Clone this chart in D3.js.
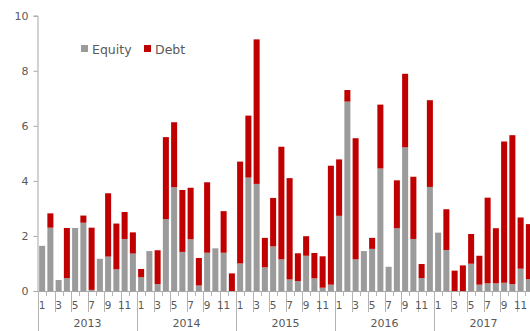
<!DOCTYPE html>
<html>
<head>
<meta charset="utf-8">
<script src="https://cdn.jsdelivr.net/npm/d3@7"></script>
<style>
body { margin: 0; background: #fff; }
text { font-family: "DejaVu Sans", Verdana, sans-serif; fill: #595959; }
</style>
</head>
<body>
<div id="chart"></div>
<script>
var years = ["2013", "2014", "2015", "2016", "2017"]
var months = [1,2,3,4,5,6,7,8,9,10,11,12]
var yTicks = [0, 2, 4, 6, 8, 10]

var equity = [
  1.64, 2.30, 0.40, 0.47, 2.29, 2.48, 0.04, 1.17, 1.25, 0.79, 1.89, 1.36,
  0.50, 1.45, 0.25, 2.61, 3.77, 1.42, 1.88, 0.20, 1.39, 1.55, 1.39, 0,
  1.00, 4.12, 3.89, 0.86, 1.62, 1.15, 0.42, 0.36, 1.28, 0.46, 0.12, 0.23,
  2.73, 6.88, 1.15, 1.45, 1.53, 4.45, 0.88, 2.28, 5.22, 1.89, 0.47, 3.78,
  2.12, 1.49, 0, 0, 0.99, 0.23, 0.28, 0.28, 0.30, 0.25, 0.81, 0.43]

var debt = [
  0, 0.52, 0, 1.82, 0, 0.26, 2.26, 0, 2.30, 1.66, 0.98, 0.77,
  0.30, 0, 1.23, 2.98, 2.36, 2.25, 1.87, 1.00, 2.56, 0, 1.51, 0.64,
  3.70, 2.25, 5.25, 1.07, 1.76, 4.09, 3.68, 1.01, 0.71, 0.92, 1.14, 4.32,
  2.05, 0.42, 4.40, 0, 0.40, 2.32, 0, 1.74, 2.67, 2.26, 0.51, 3.15,
  0, 1.48, 0.74, 0.93, 1.08, 1.05, 3.11, 2.00, 5.13, 5.41, 1.86, 2.00]

var seriesNames = ["Equity", "Debt"]
var colors = {Equity: "#9b9b9b", Debt: "#c00000"}

// one row per month
var rows = []
years.forEach(function (yr, yi) {
  months.forEach(function (m, mi) {
    var i = yi * 12 + mi
    rows.push({key: yr + "-" + m, year: yr, month: m, Equity: equity[i], Debt: debt[i]})
  })
})

var w = 530, h = 331
var svg = d3.select("#chart").append("svg")
  .attr("width", w).attr("height", h)

var x = d3.scaleBand()
  .domain(rows.map(function (d) { return d.key }))
  .range([38, 38 + 60 * 8.25])
  .paddingInner(0.27)
  .paddingOuter(0.135)

var y = d3.scaleLinear().domain([0, 10]).range([291, 15.7])

var stack = d3.stack().keys(seriesNames)(rows)

svg.append("g").selectAll("g")
  .data(stack)
  .enter().append("g")
  .attr("fill", function (d) { return colors[d.key] })
  .selectAll("rect")
  .data(function (d) { return d })
  .enter().append("rect")
  .attr("x", function (d) { return x(d.data.key) })
  .attr("width", x.bandwidth())
  .attr("y", function (d) { return y(d[1]) })
  .attr("height", function (d) { return y(d[0]) - y(d[1]) })

// y axis
var yAxis = d3.axisLeft(y).tickValues(yTicks).tickSize(4).tickPadding(5)
var gy = svg.append("g").attr("transform", "translate(37.5,0)").call(yAxis)
gy.select(".domain").attr("stroke", "#a6a6a6")
gy.selectAll(".tick line").attr("stroke", "#a6a6a6")
gy.selectAll("text").attr("font-size", 11).attr("fill", "#595959")
  .style("font-family", "DejaVu Sans, Verdana, sans-serif")

// x axis: baseline, month ticks, labels, year dividers
var step = x.step()
var x0 = x.range()[0]
var gx = svg.append("g")
gx.append("line").attr("x1", x0).attr("x2", w).attr("y1", 291.5).attr("y2", 291.5)
  .attr("stroke", "#a6a6a6")

gx.selectAll(".mtick")
  .data(rows)
  .enter().append("line")
  .attr("class", "mtick")
  .attr("x1", function (d, i) { return Math.round(x0 + i * step) + 0.5 })
  .attr("x2", function (d, i) { return Math.round(x0 + i * step) + 0.5 })
  .attr("y1", 291)
  .attr("y2", function (d) { return d.month == 1 ? h : (d.month % 2 == 1 ? 312 : 296) })
  .attr("stroke", "#b3b3b3")

gx.selectAll(".mlab")
  .data(rows.filter(function (d) { return d.month % 2 == 1 }))
  .enter().append("text")
  .attr("class", "mlab")
  .attr("x", function (d) { return x(d.key) + x.bandwidth() / 2 })
  .attr("y", 309)
  .attr("text-anchor", "middle")
  .attr("font-size", 10.5)
  .text(function (d) { return d.month })

gx.selectAll(".ylab")
  .data(years)
  .enter().append("text")
  .attr("class", "ylab")
  .attr("x", function (d, i) { return x0 + (i * 12 + 6) * step })
  .attr("y", 327)
  .attr("text-anchor", "middle")
  .attr("font-size", 11)
  .text(function (d) { return d })

// legend
var legend = svg.append("g")
var legendPos = [{name: "Equity", x: 81}, {name: "Debt", x: 144}]
legend.selectAll("rect")
  .data(legendPos)
  .enter().append("rect")
  .attr("x", function (d) { return d.x })
  .attr("y", 45)
  .attr("width", 7).attr("height", 7)
  .attr("fill", function (d) { return colors[d.name] })
legend.selectAll("text")
  .data(legendPos)
  .enter().append("text")
  .attr("x", function (d) { return d.x + 11 })
  .attr("y", 53.5)
  .attr("font-size", 12.5)
  .text(function (d) { return d.name })
</script>
</body>
</html>
